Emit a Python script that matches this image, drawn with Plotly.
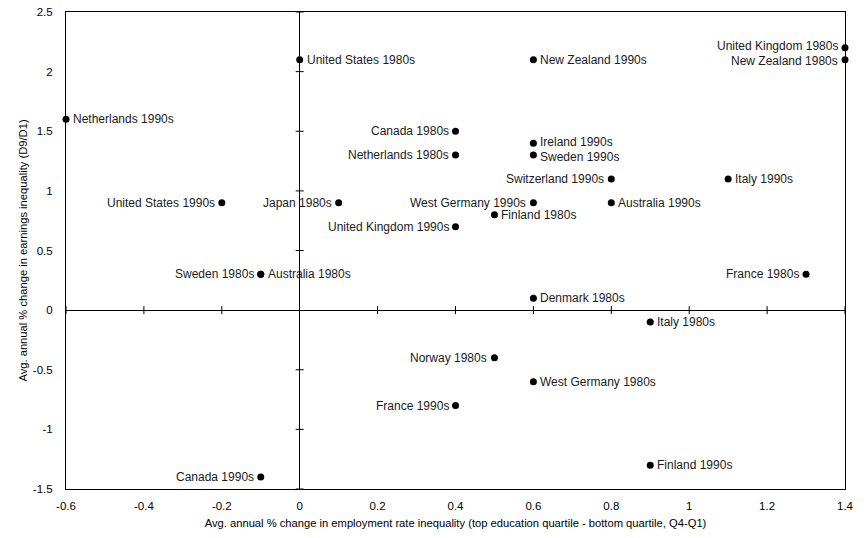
import plotly.graph_objects as go

# Country-decade observations
labels = [
    "Netherlands 1990s", "United States 1980s", "New Zealand 1990s",
    "United Kingdom 1980s", "New Zealand 1980s", "Canada 1980s",
    "Ireland 1990s", "Netherlands 1980s", "Sweden 1990s",
    "Switzerland 1990s", "Italy 1990s", "United States 1990s",
    "Japan 1980s", "West Germany 1990s", "Australia 1990s",
    "Finland 1980s", "United Kingdom 1990s", "Sweden 1980s",
    "Australia 1980s", "France 1980s", "Denmark 1980s",
    "Italy 1980s", "Norway 1980s", "West Germany 1980s",
    "France 1990s", "Finland 1990s", "Canada 1990s",
]
employment_change = [
    -0.6, 0.0, 0.6,
    1.4, 1.4, 0.4,
    0.6, 0.4, 0.6,
    0.8, 1.1, -0.2,
    0.1, 0.6, 0.8,
    0.5, 0.4, -0.1,
    -0.1, 1.3, 0.6,
    0.9, 0.5, 0.6,
    0.4, 0.9, -0.1,
]
earnings_change = [
    1.6, 2.1, 2.1,
    2.2, 2.1, 1.5,
    1.4, 1.3, 1.3,
    1.1, 1.1, 0.9,
    0.9, 0.9, 0.9,
    0.8, 0.7, 0.3,
    0.3, 0.3, 0.1,
    -0.1, -0.4, -0.6,
    -0.8, -1.3, -1.4,
]
label_side = [
    "right", "right", "right",
    "left", "left", "left",
    "right", "left", "right",
    "left", "right", "left",
    "left", "left", "right",
    "right", "left", "left",
    "right", "left", "right",
    "right", "left", "right",
    "left", "right", "left",
]

x_ticks = [-0.6, -0.4, -0.2, 0, 0.2, 0.4, 0.6, 0.8, 1, 1.2, 1.4]
y_ticks = [-1.5, -1, -0.5, 0, 0.5, 1, 1.5, 2, 2.5]

font_family = "Liberation Sans, Arial, sans-serif"

fig = go.Figure()
fig.add_trace(go.Scatter(
    x=employment_change,
    y=earnings_change,
    mode="markers",
    marker=dict(color="black", size=7),
    cliponaxis=False,
    hoverinfo="skip",
))

# Point labels placed beside each marker; labels stacked tightly on the
# same side of the same column are nudged apart by a pixel or two.
points = list(zip(labels, employment_change, earnings_change, label_side))
annotations = []
for name, xv, yv, side in points:
    nudge = 0
    for other, ox, oy, oside in points:
        if other == name or oside != side or abs(ox - xv) > 1e-9:
            continue
        if abs(oy - yv) < 0.15:
            nudge += 1.5 if yv > oy else -1.5
    annotations.append(dict(
        x=xv, y=yv, xref="x", yref="y", text=name, showarrow=False,
        xanchor="left" if side == "right" else "right", yanchor="middle",
        xshift=6 if side == "right" else -6, yshift=nudge, borderpad=0,
        font=dict(family=font_family, size=12, color="#1a1a1a"),
    ))

# Cross-style tick marks along the two zero lines
shapes = []
for xv in x_ticks:
    if xv == 0:
        continue
    shapes.append(dict(type="line", xref="x", yref="y", x0=xv, x1=xv,
                       ysizemode="pixel", yanchor=0, y0=-4, y1=4,
                       line=dict(color="black", width=1)))
for yv in y_ticks:
    if yv == 0:
        continue
    shapes.append(dict(type="line", xref="x", yref="y", y0=yv, y1=yv,
                       xsizemode="pixel", xanchor=0, x0=-4, x1=4,
                       line=dict(color="black", width=1)))

fig.update_layout(
    width=868, height=538,
    margin=dict(l=66, r=23, t=12, b=49),
    paper_bgcolor="white", plot_bgcolor="white",
    showlegend=False,
    font=dict(family=font_family, size=11.5, color="black"),
    shapes=shapes,
    annotations=annotations,
    xaxis=dict(
        range=[-0.6, 1.4], tickvals=x_ticks,
        ticktext=[f"{v:g}" for v in x_ticks],
        showgrid=False, zeroline=True, zerolinecolor="black", zerolinewidth=1,
        showline=True, linecolor="black", linewidth=1, mirror=True,
        ticks="", ticklabelstandoff=6, automargin=False,
        title=dict(text="Avg. annual % change in employment rate inequality (top education quartile - bottom quartile, Q4-Q1)",
                   font=dict(size=11.2), standoff=8),
    ),
    yaxis=dict(
        range=[-1.5, 2.5], tickvals=y_ticks,
        ticktext=[f"{v:g}" for v in y_ticks],
        showgrid=False, zeroline=True, zerolinecolor="black", zerolinewidth=1,
        showline=True, linecolor="black", linewidth=1, mirror=True,
        ticks="", ticklabelstandoff=10, automargin=False,
        title=dict(text="Avg. annual % change in earnings inequality (D9/D1)",
                   font=dict(size=11.2), standoff=2),
    ),
)

fig.write_html("out.html")
